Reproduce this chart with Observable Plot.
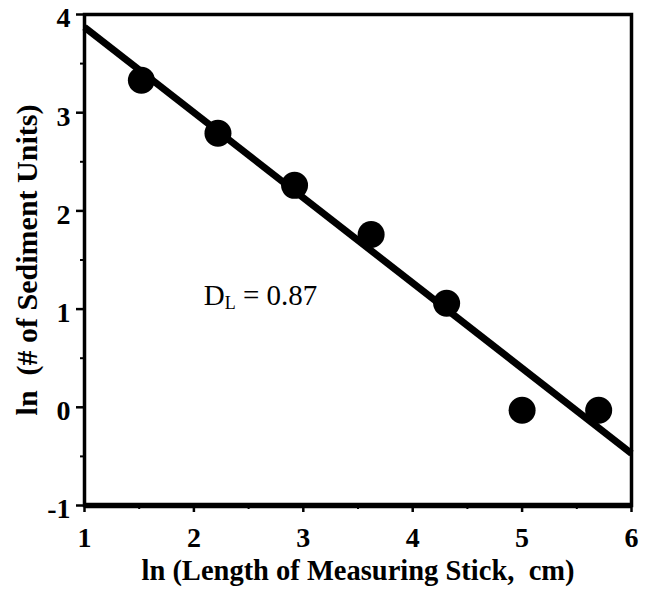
<!DOCTYPE html>
<html>
<head>
<meta charset="utf-8">
<script src="https://cdn.jsdelivr.net/npm/d3@7"></script>
<script src="https://cdn.jsdelivr.net/npm/@observablehq/plot@0.6"></script>
<style>
  html, body { margin: 0; padding: 0; background: #fff; }
</style>
</head>
<body>
<div id="chart"></div>
<script>
// Data
const lnStick = [1.52, 2.22, 2.92, 3.62, 4.31, 5.00, 5.70];
const lnUnits = [3.33, 2.79, 2.26, 1.76, 1.06, -0.03, -0.03];
const fitX = [1, 6];
const fitY = [3.87, -0.47];
const xTicks = [1, 2, 3, 4, 5, 6];
const yTicks = [-1, 0, 1, 2, 3, 4];
const xMinor = [1.5, 2.5, 3.5, 4.5, 5.5];
const yMinor = [-0.5, 0.5, 1.5, 2.5, 3.5];
const xTitle = "ln (Length of Measuring Stick,  cm)";
const yTitle = "ln  (# of Sediment Units)";
const annotation = {x: 2.09, y: 1.14, main: "D", sub: "L", rest: " = 0.87"};

const points = lnStick.map((x, i) => ({x, y: lnUnits[i]}));
const fit = fitX.map((x, i) => ({x, y: fitY[i]}));

const font = "'Liberation Serif', 'Times New Roman', serif";

const chart = Plot.plot({
  width: 647,
  height: 589,
  marginLeft: 84,
  marginRight: 16,
  marginTop: 14,
  marginBottom: 84,
  style: {fontFamily: font, background: "#fff", color: "#000"},
  x: {domain: [xTicks[0], xTicks[xTicks.length - 1]]},
  y: {domain: [yTicks[0], yTicks[yTicks.length - 1]]},
  marks: [
    Plot.axisX({ticks: xTicks, tickSize: 7, tickPadding: 15, tickFormat: d => String(d),
      fontSize: 28, fontWeight: "bold", strokeWidth: 2.5, label: null}),
    Plot.axisX({ticks: xMinor, tickSize: 4, tickFormat: null, text: null, strokeWidth: 2, label: null}),
    Plot.axisY({ticks: yTicks, tickSize: 8, text: null, strokeWidth: 2.5, label: null}),
    Plot.text(yTicks, {y: d => d, frameAnchor: "left", dx: -14, dy: 4, text: d => String(d),
      textAnchor: "end", lineAnchor: "middle", fontSize: 28, fontWeight: "bold", fill: "#000"}),
    Plot.axisY({ticks: yMinor, tickSize: 4, text: null, strokeWidth: 2, label: null}),
    Plot.frame({stroke: "#000", strokeWidth: 3.5}),
    Plot.ruleY([yTicks[0]], {stroke: "#000", strokeWidth: 5.5}),
    Plot.line(fit, {x: "x", y: "y", stroke: "#000", strokeWidth: 7, strokeLinecap: "butt"}),
    Plot.dot(points, {x: "x", y: "y", r: 13.5, fill: "#000", stroke: "none"}),
    Plot.text([annotation], {x: "x", y: "y", text: d => d.main + d.sub + d.rest,
      textAnchor: "start", lineAnchor: "middle", fontSize: 29, fill: "#000", className: "dl-label"}),
    Plot.text([xTitle], {frameAnchor: "bottom", dy: 65, text: d => d,
      textAnchor: "middle", lineAnchor: "middle",
      fontSize: 28.5, fontWeight: "bold", fill: "#000"}),
    Plot.text([yTitle], {frameAnchor: "left", dx: -57, rotate: -90, text: d => d,
      textAnchor: "middle", lineAnchor: "middle",
      fontSize: 30, fontWeight: "bold", fill: "#000"})
  ]
});

// Turn "DL" into D with a subscript L
d3.select(chart).selectAll(".dl-label text").each(function() {
  const t = d3.select(this);
  t.text(null);
  t.append("tspan").text(annotation.main);
  t.append("tspan").attr("font-size", 18).attr("dy", 4).text(annotation.sub);
  t.append("tspan").attr("dy", -4).text(annotation.rest);
});

document.getElementById("chart").appendChild(chart);
</script>
</body>
</html>
